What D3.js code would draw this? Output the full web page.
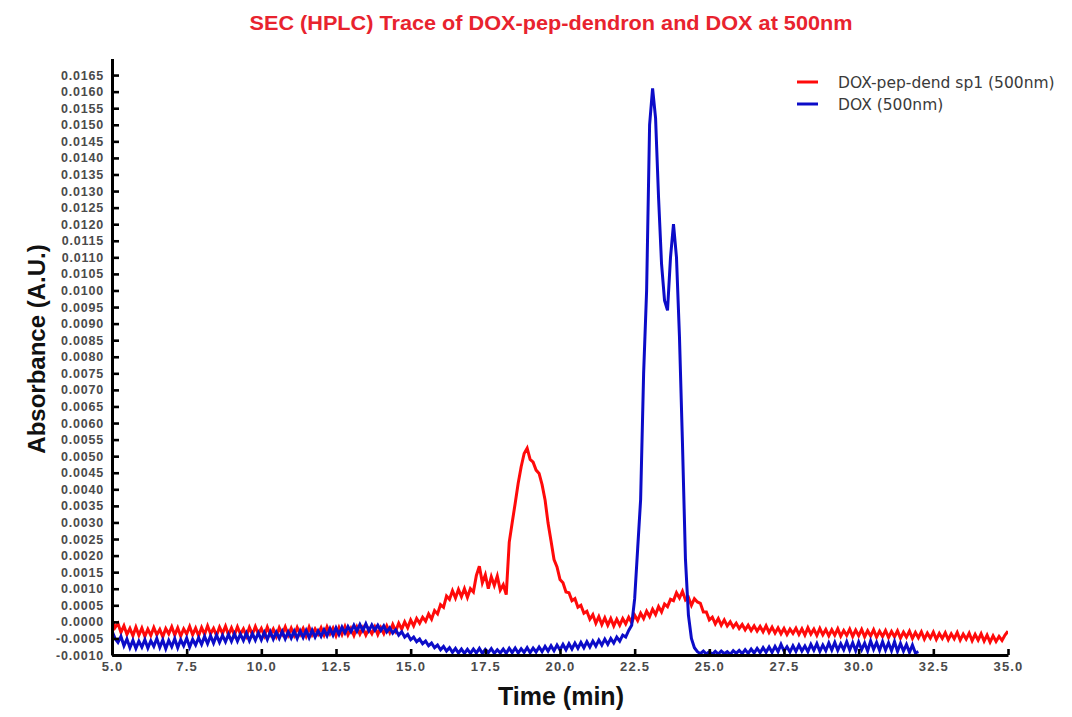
<!DOCTYPE html>
<html>
<head>
<meta charset="utf-8">
<script src="https://cdn.jsdelivr.net/npm/d3@7"></script>
<style>
  html, body { margin: 0; padding: 0; background: #fff; }
  svg { display: block; }
</style>
</head>
<body>
<svg id="chart" width="1072" height="717"></svg>
<script>
// SEC (HPLC) absorbance traces at 500 nm, sampled every 0.1 min from 5.0 min.
const sampleStart = 5.0;
const sampleStep = 0.1;

// DOX-pep-dend sp1 (500nm), 5.0 – 35.0 min
const doxPepDend = [
  0.00008, -0.00018, -0.00005, -0.00032, -0.00012, -0.00038, -0.00020, -0.00042, -0.00016, -0.00040,
  -0.00019, -0.00044, -0.00022, -0.00041, -0.00017, -0.00039, -0.00023, -0.00045, -0.00020, -0.00036,
  -0.00015, -0.00040, -0.00018, -0.00043, -0.00021, -0.00037, -0.00014, -0.00039, -0.00019, -0.00042,
  -0.00017, -0.00038, -0.00012, -0.00036, -0.00020, -0.00041, -0.00016, -0.00035, -0.00013, -0.00039,
  -0.00018, -0.00040, -0.00015, -0.00037, -0.00021, -0.00043, -0.00017, -0.00038, -0.00014, -0.00036,
  -0.00020, -0.00042, -0.00016, -0.00039, -0.00022, -0.00044, -0.00018, -0.00037, -0.00015, -0.00040,
  -0.00019, -0.00041, -0.00017, -0.00038, -0.00020, -0.00043, -0.00016, -0.00039, -0.00021, -0.00037,
  -0.00018, -0.00040, -0.00015, -0.00036, -0.00019, -0.00042, -0.00017, -0.00038, -0.00014, -0.00039,
  -0.00020, -0.00041, -0.00016, -0.00037, -0.00018, -0.00040, -0.00021, -0.00036, -0.00015, -0.00038,
  -0.00017, -0.00035, -0.00012, -0.00032, -0.00008, -0.00028, -0.00004, -0.00022, 0.00000, -0.00018,
  0.00006, -0.00012, 0.00010, -0.00004, 0.00014, 0.00002, 0.00024, 0.00008, 0.00034, 0.00024,
  0.00052, 0.00044, 0.00078, 0.00068, 0.00094, 0.00072, 0.00098, 0.00076, 0.00100, 0.00074,
  0.00100, 0.00090, 0.00140, 0.00168, 0.00118, 0.00142, 0.00100, 0.00136, 0.00110, 0.00138,
  0.00096, 0.00112, 0.00082, 0.00240, 0.00300, 0.00358, 0.00418, 0.00468, 0.00508, 0.00524,
  0.00490, 0.00482, 0.00458, 0.00448, 0.00414, 0.00368, 0.00298, 0.00244, 0.00188, 0.00166,
  0.00128, 0.00118, 0.00090, 0.00088, 0.00064, 0.00070, 0.00044, 0.00050, 0.00026, 0.00032,
  0.00008, 0.00022, -0.00004, 0.00016, -0.00008, 0.00012, -0.00010, 0.00010, -0.00012, 0.00008,
  -0.00010, 0.00010, -0.00006, 0.00014, -0.00002, 0.00020, 0.00004, 0.00026, 0.00010, 0.00032,
  0.00016, 0.00038, 0.00022, 0.00046, 0.00030, 0.00054, 0.00046, 0.00068, 0.00064, 0.00088,
  0.00072, 0.00092, 0.00066, 0.00074, 0.00050, 0.00070, 0.00060, 0.00056, 0.00030, 0.00030,
  0.00006, 0.00014, -0.00006, 0.00010, -0.00010, 0.00006, -0.00012, 0.00000, -0.00016, -0.00004,
  -0.00020, -0.00008, -0.00024, -0.00010, -0.00026, -0.00012, -0.00028, -0.00014, -0.00030, -0.00012,
  -0.00032, -0.00016, -0.00034, -0.00018, -0.00036, -0.00020, -0.00038, -0.00022, -0.00035, -0.00019,
  -0.00038, -0.00021, -0.00040, -0.00018, -0.00037, -0.00022, -0.00041, -0.00020, -0.00039, -0.00023,
  -0.00042, -0.00024, -0.00040, -0.00021, -0.00043, -0.00026, -0.00041, -0.00022, -0.00044, -0.00025,
  -0.00042, -0.00023, -0.00045, -0.00027, -0.00043, -0.00024, -0.00046, -0.00028, -0.00044, -0.00026,
  -0.00047, -0.00029, -0.00045, -0.00027, -0.00049, -0.00031, -0.00046, -0.00028, -0.00050, -0.00032,
  -0.00048, -0.00030, -0.00052, -0.00034, -0.00049, -0.00031, -0.00053, -0.00035, -0.00050, -0.00033,
  -0.00054, -0.00036, -0.00051, -0.00032, -0.00055, -0.00037, -0.00052, -0.00034, -0.00057, -0.00038,
  -0.00055, -0.00036, -0.00058, -0.00040, -0.00061, -0.00042, -0.00059, -0.00044, -0.00056, -0.00040,
  -0.00028
];

// DOX (500nm), 5.0 – 32.0 min
const doxFree = [
  -0.00028, -0.00050, -0.00062, -0.00044, -0.00072, -0.00052, -0.00078, -0.00056, -0.00080, -0.00058,
  -0.00076, -0.00054, -0.00079, -0.00057, -0.00074, -0.00050, -0.00077, -0.00055, -0.00081, -0.00056,
  -0.00075, -0.00051, -0.00078, -0.00054, -0.00072, -0.00049, -0.00076, -0.00053, -0.00070, -0.00048,
  -0.00068, -0.00044, -0.00066, -0.00042, -0.00064, -0.00040, -0.00062, -0.00041, -0.00060, -0.00038,
  -0.00059, -0.00036, -0.00058, -0.00037, -0.00056, -0.00034, -0.00057, -0.00035, -0.00055, -0.00033,
  -0.00054, -0.00032, -0.00053, -0.00030, -0.00052, -0.00031, -0.00050, -0.00029, -0.00051, -0.00030,
  -0.00049, -0.00028, -0.00050, -0.00027, -0.00047, -0.00026, -0.00048, -0.00025, -0.00046, -0.00027,
  -0.00044, -0.00024, -0.00042, -0.00020, -0.00040, -0.00018, -0.00038, -0.00016, -0.00034, -0.00014,
  -0.00030, -0.00010, -0.00028, -0.00008, -0.00026, -0.00006, -0.00027, -0.00009, -0.00025, -0.00010,
  -0.00026, -0.00012, -0.00030, -0.00018, -0.00034, -0.00024, -0.00040, -0.00030, -0.00046, -0.00038,
  -0.00054, -0.00046, -0.00060, -0.00052, -0.00066, -0.00058, -0.00072, -0.00064, -0.00078, -0.00070,
  -0.00084, -0.00074, -0.00088, -0.00078, -0.00092, -0.00080, -0.00094, -0.00082, -0.00095, -0.00083,
  -0.00095, -0.00082, -0.00094, -0.00080, -0.00095, -0.00083, -0.00093, -0.00081, -0.00095, -0.00084,
  -0.00094, -0.00082, -0.00095, -0.00080, -0.00093, -0.00079, -0.00094, -0.00081, -0.00092, -0.00078,
  -0.00093, -0.00079, -0.00091, -0.00076, -0.00090, -0.00074, -0.00088, -0.00072, -0.00087, -0.00070,
  -0.00085, -0.00068, -0.00084, -0.00066, -0.00082, -0.00064, -0.00080, -0.00062, -0.00078, -0.00060,
  -0.00076, -0.00058, -0.00073, -0.00055, -0.00070, -0.00052, -0.00068, -0.00050, -0.00064, -0.00046,
  -0.00058, -0.00040, -0.00046, -0.00026, -0.00010, 0.00070, 0.00220, 0.00370, 0.00750, 0.01000,
  0.01500, 0.01610, 0.01520, 0.01280, 0.01080, 0.00970, 0.00940, 0.01100, 0.01200, 0.01100,
  0.00860, 0.00540, 0.00190, 0.00020, -0.00050, -0.00078, -0.00090, -0.00096, -0.00088, -0.00097,
  -0.00090, -0.00098, -0.00089, -0.00097, -0.00088, -0.00096, -0.00090, -0.00098, -0.00087, -0.00095,
  -0.00086, -0.00096, -0.00084, -0.00095, -0.00082, -0.00094, -0.00080, -0.00093, -0.00078, -0.00092,
  -0.00076, -0.00092, -0.00074, -0.00090, -0.00068, -0.00088, -0.00075, -0.00091, -0.00072, -0.00089,
  -0.00070, -0.00088, -0.00073, -0.00090, -0.00068, -0.00086, -0.00066, -0.00089, -0.00070, -0.00087,
  -0.00064, -0.00085, -0.00062, -0.00086, -0.00066, -0.00084, -0.00060, -0.00085, -0.00063, -0.00087,
  -0.00061, -0.00084, -0.00064, -0.00088, -0.00058, -0.00083, -0.00062, -0.00086, -0.00060, -0.00085,
  -0.00063, -0.00087, -0.00060, -0.00089, -0.00065, -0.00088, -0.00068, -0.00092, -0.00070, -0.00094,
  -0.00090
];

const xTicks = [5.0, 7.5, 10.0, 12.5, 15.0, 17.5, 20.0, 22.5, 25.0, 27.5, 30.0, 32.5, 35.0];
const yTicks = [
  -0.0010, -0.0005, 0.0000, 0.0005, 0.0010, 0.0015, 0.0020, 0.0025, 0.0030, 0.0035,
  0.0040, 0.0045, 0.0050, 0.0055, 0.0060, 0.0065, 0.0070, 0.0075, 0.0080, 0.0085,
  0.0090, 0.0095, 0.0100, 0.0105, 0.0110, 0.0115, 0.0120, 0.0125, 0.0130, 0.0135,
  0.0140, 0.0145, 0.0150, 0.0155, 0.0160, 0.0165
];

const seriesNames = ["DOX-pep-dend sp1 (500nm)", "DOX (500nm)"];
const seriesColors = ["#ff0a0a", "#0c0cc8"];
const titleText = "SEC (HPLC) Trace of DOX-pep-dendron and DOX at 500nm";
const xTitle = "Time (min)";
const yTitle = "Absorbance  (A.U.)";

const svg = d3.select("#chart");
const plot = { left: 112, right: 1008, top: 58.5, bottom: 655 };

const x = d3.scaleLinear().domain([5, 35]).range([plot.left, plot.right]);
const y = d3.scaleLinear().domain([-0.0010, 0.0170]).range([plot.bottom, plot.top]);

svg.append("rect").attr("width", 1072).attr("height", 717).attr("fill", "#fff");

svg.append("defs").append("clipPath").attr("id", "plotClip")
  .append("rect")
  .attr("x", plot.left).attr("y", plot.top)
  .attr("width", plot.right - plot.left).attr("height", plot.bottom - plot.top);

const toPoints = arr => arr.map((v, i) => [sampleStart + i * sampleStep, v]);

const line = d3.line()
  .x(d => x(d[0]))
  .y(d => y(d[1]));

const traces = svg.append("g").attr("clip-path", "url(#plotClip)");
[doxPepDend, doxFree].forEach((arr, k) => {
  traces.append("path")
    .datum(toPoints(arr))
    .attr("fill", "none")
    .attr("stroke", seriesColors[k])
    .attr("stroke-width", 3)
    .attr("stroke-linejoin", "miter")
    .attr("d", line);
});

// Axes
const tickFont = "'Liberation Sans', Arial, sans-serif";

const yAxis = d3.axisLeft(y)
  .tickValues(yTicks)
  .tickFormat(d => d.toFixed(4))
  .tickSizeInner(-7)
  .tickSizeOuter(0)
  .tickPadding(8);

const gy = svg.append("g")
  .attr("transform", `translate(${plot.left},0)`)
  .call(yAxis);

const xAxis = d3.axisBottom(x)
  .tickValues(xTicks)
  .tickFormat(d => d.toFixed(1))
  .tickSizeInner(-6)
  .tickSizeOuter(0)
  .tickPadding(7);

const gx = svg.append("g")
  .attr("transform", `translate(0,${plot.bottom})`)
  .call(xAxis);

[gx, gy].forEach(g => {
  g.select(".domain").attr("stroke", "#000").attr("stroke-width", 3);
  g.selectAll(".tick line").attr("stroke", "#000").attr("stroke-width", 2.6);
  g.selectAll(".tick text")
    .attr("fill", "#4a4a4a")
    .style("font-family", tickFont)
    .style("font-weight", "bold")
    .style("font-size", "12.5px")
    .style("letter-spacing", "0.8px");
});
gx.selectAll(".tick text").style("font-size", "13px").style("letter-spacing", "1.2px");

// Title
svg.append("text")
  .attr("x", 551).attr("y", 30)
  .attr("text-anchor", "middle")
  .attr("textLength", 603)
  .attr("lengthAdjust", "spacingAndGlyphs")
  .style("font-family", tickFont)
  .style("font-weight", "bold")
  .style("font-size", "21px")
  .attr("fill", "#e8232e")
  .text(titleText);

// Axis titles
svg.append("text")
  .attr("x", 561).attr("y", 705)
  .attr("text-anchor", "middle")
  .style("font-family", tickFont)
  .style("font-weight", "bold")
  .style("font-size", "25px")
  .attr("fill", "#111")
  .text(xTitle);

svg.append("text")
  .attr("transform", "translate(45,349) rotate(-90)")
  .attr("text-anchor", "middle")
  .style("font-family", tickFont)
  .style("font-weight", "bold")
  .style("font-size", "24px")
  .attr("fill", "#111")
  .text(yTitle);

// Legend
const legend = svg.append("g");
seriesNames.forEach((name, k) => {
  const cy = 82 + k * 22;
  legend.append("line")
    .attr("x1", 797).attr("x2", 818)
    .attr("y1", cy).attr("y2", cy)
    .attr("stroke", seriesColors[k])
    .attr("stroke-width", 3);
  legend.append("text")
    .attr("x", 838).attr("y", cy + 5.5)
    .style("font-family", "'DejaVu Sans', Verdana, sans-serif")
    .style("font-size", "15.5px")
    .attr("fill", "#3a3a3a")
    .text(name);
});
</script>
</body>
</html>
